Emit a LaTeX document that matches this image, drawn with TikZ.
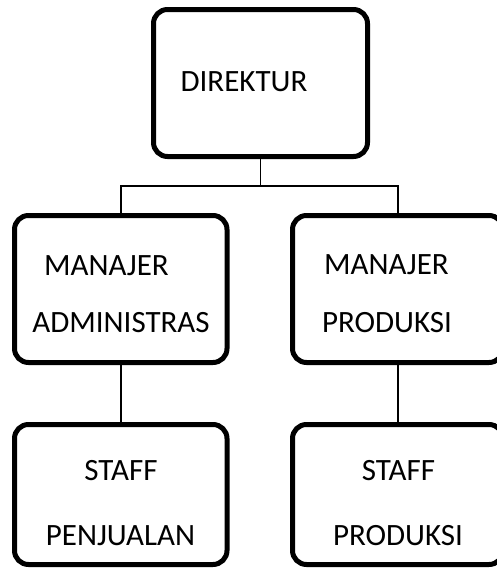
\documentclass[tikz,border=0pt]{standalone}
\usepackage{fontspec}
\setmainfont{Carlito}
\usepackage{tikz}

\begin{document}
\begin{tikzpicture}[
        x=0.5pt, y=-0.5pt,
        box/.style={draw, line width=2.5pt, rounded corners=7pt},
        lbl/.style={font=\fontsize{15.5}{18}\selectfont, anchor=base, inner sep=0pt},
        link/.style={line width=0.8pt}]

        \useasboundingbox (0,0) rectangle (497,569);

        % --- TOP: direktur ---
        \node[box, minimum width=107pt, minimum height=73.5pt] (dir) at (260.5,83) {};
        \node[lbl] (tdir) at (244,91) {DIREKTUR};

        % --- MIDDLE: manajer ---
        \node[box, minimum width=106.25pt, minimum height=73.5pt] (adm) at (120.75,289) {};
        \node[lbl] (tadm1) at (106.5,275) {MANAJER};
        \node[lbl] (tadm2) at (121,332) {ADMINISTRAS};

        \node[box, minimum width=105.25pt, minimum height=73.5pt] (prod) at (397.75,289) {};
        \node[lbl] (tprod1) at (386.5,274) {MANAJER};
        \node[lbl] (tprod2) at (387,332) {PRODUKSI};

        % --- BOTTOM: staff ---
        \node[box, minimum width=106.25pt, minimum height=70pt] (sjual) at (120.75,494.5) {};
        \node[lbl] (tsjual1) at (121,480) {STAFF};
        \node[lbl] (tsjual2) at (120.5,545) {PENJUALAN};

        \node[box, minimum width=105.25pt, minimum height=70pt] (sprod) at (397.75,494.5) {};
        \node[lbl] (tsprod1) at (398.5,480) {STAFF};
        \node[lbl] (tsprod2) at (398,545) {PRODUKSI};

        % connectors
        \coordinate (bus) at (260.5,186);
        \draw[link] (dir.south) -- (bus);
        \draw[link] (adm.north) |- (bus) -| (prod.north);
        \draw[link] (adm.south) -- (sjual.north);
        \draw[link] (prod.south) -- (sprod.north);

    \end{tikzpicture}
\end{document}
